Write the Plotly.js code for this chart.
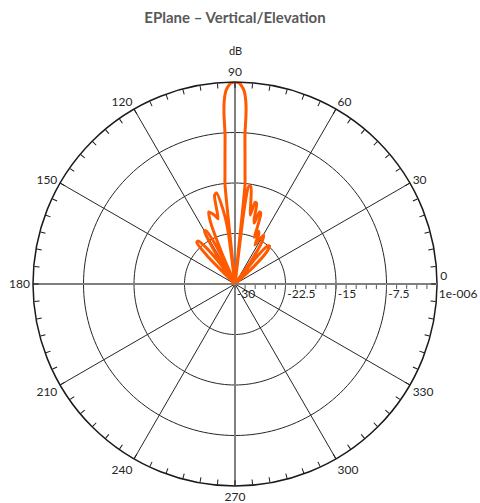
<!DOCTYPE html>
<html>
<head>
<meta charset="utf-8">
<script src="https://cdn.plot.ly/plotly-3.0.1.min.js"></script>
<style>html,body{margin:0;padding:0;background:#fff;}#chart{width:480px;height:503px;}</style>
</head>
<body>
<div id="chart"></div>
<script>
// Pattern data: angle (degrees) and gain (dB)
const angleDeg = [0, 40, 43, 45.5, 47.5, 49.5, 51.5, 53, 55, 57.5, 59.6, 61.5, 63, 64.5, 66, 67.5, 68.5, 70, 71.2, 72.5, 73.5, 75, 76.2, 77.5, 78.8, 80.8, 82, 83, 83.8,
  84.26, 84.78, 85.59, 86.18, 86.29, 86.5, 86.76, 87.16, 87.66, 88.27, 88.86, 90, 91.14, 91.73, 92.34, 92.84, 93.24, 93.5, 93.71, 93.82, 94.41, 95.22, 95.74,
  96.3, 97.5, 99, 101.5, 103, 104.5, 106, 108, 110, 111.5, 113, 114.5, 116.5, 118.5, 120, 121.5, 123, 124.5, 126.5, 128.5, 130.5, 132.5, 134.5, 136, 140, 360];
const gainDb = [-30, -30, -26, -23.2, -22.4, -22.6, -25, -30, -26, -22.5, -21.6, -22.5, -23.5, -21.8, -21.4, -22.5, -21, -18.8, -18.7, -20.5, -20, -17.6, -17.5, -19.5, -18, -15.3, -15.4, -19, -30,
  -15.15, -13.66, -10.69, -7.72, -4.75, -3.27, -2.38, -1.49, -0.9, -0.45, -0.15, 0, -0.15, -0.45, -0.9, -1.49, -2.38, -3.27, -4.75, -7.72, -10.69, -13.66, -15.15,
  -30, -22, -19, -16.2, -16.5, -20, -19.5, -19, -18.6, -20, -25, -30, -23.5, -21, -20.9, -23, -27, -30, -26, -23, -21.6, -21.6, -24, -30, -30, -30];

// Axis ticks and labels
const radialTickVals = [-30, -28.5, -27, -25.5, -24, -22.5, -21, -19.5, -18, -16.5, -15, -13.5, -12, -10.5, -9, -7.5, -6, -4.5, -3, -1.5, 0];
const radialLabelVals = [-30, -22.5, -15, -7.5, 0];
const radialLabelText = ["-30", "-22.5", "-15", "-7.5", "1e-006"];
const ringVals = [-22.5, -15, -7.5];
const angleLabelVals = [0, 30, 60, 90, 120, 150, 180, 210, 240, 270, 300, 330];
const angleLabelText = ["0<br>", "30", "60", "90", "120", "150", "180", "210", "240", "270", "300", "330"];
const angleMinorStep = 5;
const spokeAngles = [30, 60, 120, 150];
const axisSpokeAngles = [0, 90];

const FONT = "Lato, 'Open Sans', sans-serif";

// Angular ticks every 5 degrees with labels every 30
const angTickVals = [];
const angTickText = [];
for (let a = 0; a < 360; a += angleMinorStep) {
  angTickVals.push(a);
  const i = angleLabelVals.indexOf(a);
  angTickText.push(i >= 0 ? angleLabelText[i] : "");
}

const traces = [];

// Rings
ringVals.forEach(rv => {
  const th = [], rr = [];
  for (let a = 0; a <= 360; a += 2) { th.push(a); rr.push(rv); }
  traces.push({type: "scatterpolar", mode: "lines", r: rr, theta: th,
    line: {color: "#262626", width: 1}, hoverinfo: "skip", showlegend: false});
});

// Thin spokes
{
  const th = [], rr = [];
  spokeAngles.forEach(a => { th.push(a, a + 180, null); rr.push(0, 0, null); });
  traces.push({type: "scatterpolar", mode: "lines", r: rr, theta: th,
    line: {color: "#262626", width: 1}, hoverinfo: "skip", showlegend: false});
}
// Main axis spokes (grey)
{
  const th = [], rr = [];
  axisSpokeAngles.forEach(a => { th.push(a, a + 180, null); rr.push(0, 0, null); });
  traces.push({type: "scatterpolar", mode: "lines", r: rr, theta: th,
    line: {color: "#7f7f7f", width: 2}, hoverinfo: "skip", showlegend: false});
}

// Radial tick labels (just right of each tick, below the axis)
traces.push({type: "scatterpolar", mode: "text", r: radialLabelVals,
  theta: radialLabelVals.map(() => 0),
  text: radialLabelText.map(t => '<br>\u00a0<span style="font-size:12px">' + t + '</span>'),
  textposition: "bottom right", cliponaxis: false,
  textfont: {family: FONT, size: 7, color: "#262626"}, hoverinfo: "skip", showlegend: false});

// Pattern
traces.push({type: "scatterpolar", mode: "lines", r: gainDb, theta: angleDeg,
  line: {color: "#ff5a00", width: 3, shape: "spline", smoothing: 0.7}, hoverinfo: "skip", showlegend: false});

const layout = {
  width: 480, height: 503,
  margin: {l: 0, r: 0, t: 0, b: 0},
  paper_bgcolor: "#fff",
  showlegend: false,
  font: {family: FONT, size: 12, color: "#262626"},
  title: {text: "<b>EPlane – Vertical/Elevation</b>", x: 235 / 480, xanchor: "center",
    y: 1 - 18 / 503, yanchor: "middle", font: {family: FONT, size: 15, color: "#595959"}},
  polar: {
    domain: {x: [33 / 480, 437 / 480], y: [1 - 486 / 503, 1 - 82 / 503]},
    bgcolor: "#fff",
    radialaxis: {
      range: [-30, 0], angle: 0, side: "clockwise",
      showgrid: false, showline: true, linecolor: "#7f7f7f", linewidth: 2,
      tickmode: "array", tickvals: radialTickVals, showticklabels: false,
      ticks: "outside", ticklen: 4, tickcolor: "#595959", tickwidth: 1
    },
    angularaxis: {
      rotation: 0, direction: "counterclockwise",
      showgrid: false, showline: true, linecolor: "#1a1a1a", linewidth: 1.5,
      tickmode: "array", tickvals: angTickVals, ticktext: angTickText,
      ticks: "inside", ticklen: 5, tickcolor: "#1a1a1a", tickwidth: 1,
      tickfont: {family: FONT, size: 12, color: "#262626"}
    }
  },
  annotations: [{text: "dB", xref: "paper", yref: "paper", x: 235 / 480, y: 1 - 50 / 503,
    xanchor: "center", yanchor: "middle", showarrow: false, font: {family: FONT, size: 11, color: "#262626"}}]
};

Plotly.newPlot("chart", traces, layout, {displayModeBar: false, staticPlot: true});
</script>
</body>
</html>
